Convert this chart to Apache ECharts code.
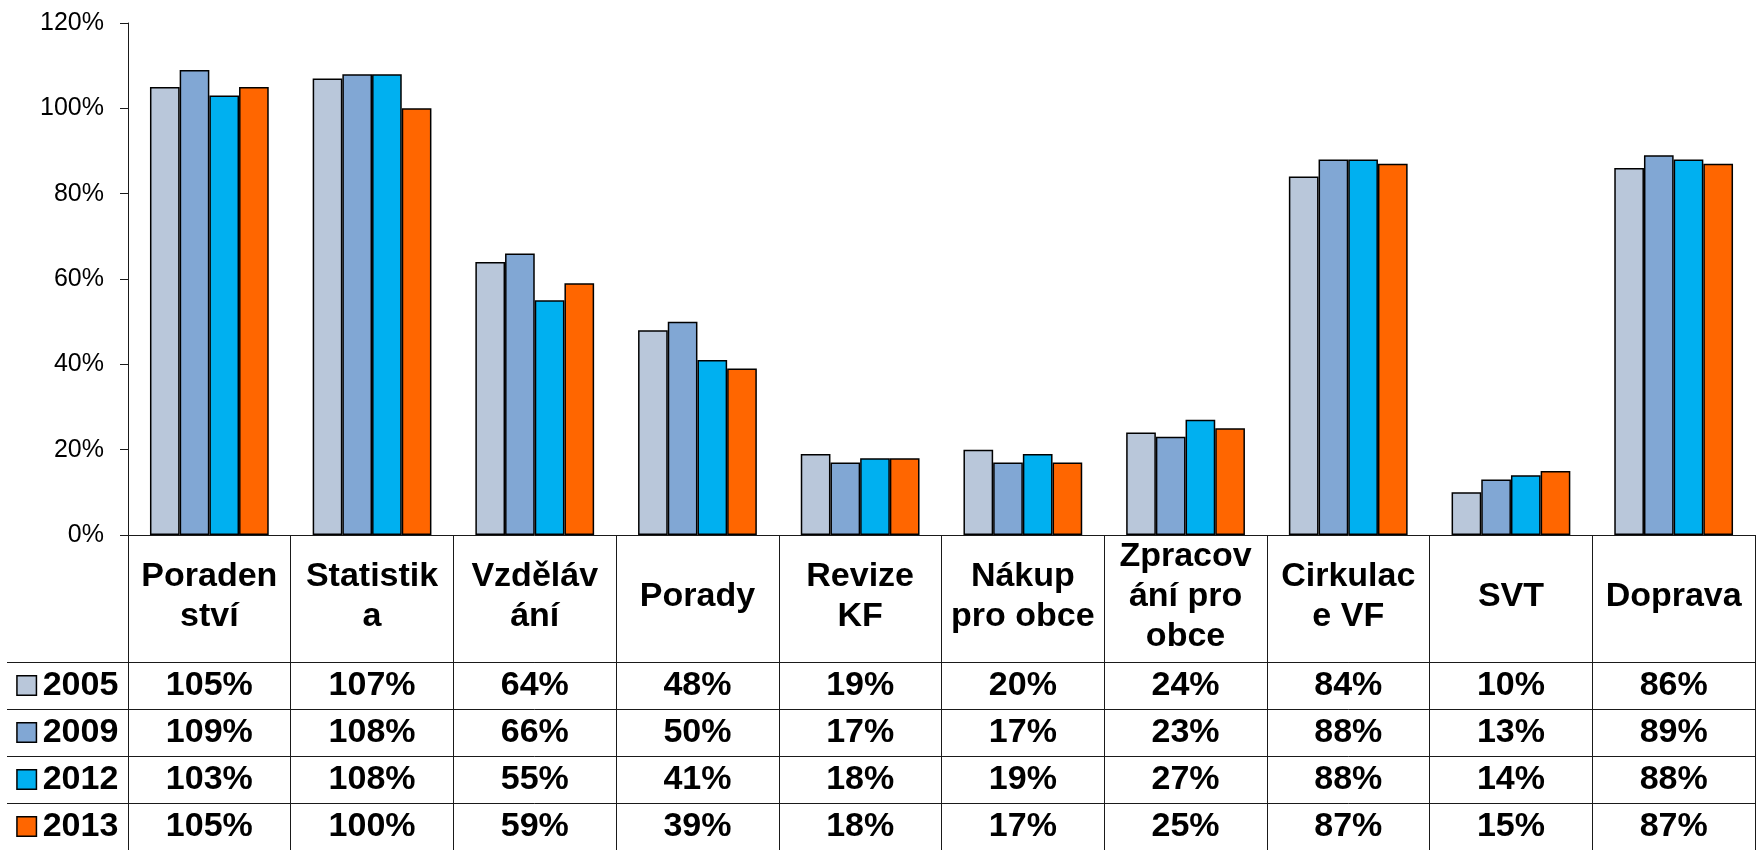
<!DOCTYPE html>
<html lang="cs">
    <head>
        <meta charset="utf-8">
        <title>eCharts</title>
        <script src="https://cdn.jsdelivr.net/npm/echarts@6/dist/echarts.min.js"></script>
        <style>
            html, body { margin: 0; padding: 0; background: #fff; }
        </style>
    </head>
    <body>
        <div id="main" style="width: 1756px;height: 850px;"></div>

        <script type="text/javascript">

            // category labels, wrapped as in the table header
            const categories = ['Poraden\nství', 'Statistik\na', 'Vzděláv\nání', 'Porady', 'Revize\nKF',
                'Nákup\npro obce', 'Zpracov\nání pro\nobce', 'Cirkulac\ne VF', 'SVT', 'Doprava'];
            const years = ['2005', '2009', '2012', '2013'];
            const colors = ['#B9C7DA', '#81A7D4', '#00B0F0', '#FF6600'];

            const v2005 = [105, 107, 64, 48, 19, 20, 24, 84, 10, 86];
            const v2009 = [109, 108, 66, 50, 17, 17, 23, 88, 13, 89];
            const v2012 = [103, 108, 55, 41, 18, 19, 27, 88, 14, 88];
            const v2013 = [105, 100, 59, 39, 18, 17, 25, 87, 15, 87];
            const values = [v2005, v2009, v2012, v2013];

            const font = 'Liberation Sans, Arial, sans-serif';
            const lineColor = '#1a1a1a';

            let myChart = echarts.init(document.getElementById('main'));

            // legend squares for the row labels
            let rich = { g: { width: 7 } };
            years.forEach((y, i) => {
                rich['k' + i] = {
                    width: 18, height: 18,
                    backgroundColor: colors[i],
                    borderColor: '#000', borderWidth: 1.5
                };
            });

            let barSeries = years.map((y, i) => ({
                name: y,
                type: 'bar',
                xAxisIndex: 0,
                yAxisIndex: 0,
                barGap: '0%',
                barCategoryGap: '27%',
                data: values[i],
                itemStyle: { color: colors[i], borderColor: '#000', borderWidth: 1.5 }
            }));

            // cells of the data table
            let cells = [];
            values.forEach((arr, r) => {
                arr.forEach((v, c) => cells.push([c, r, v]));
            });

            let options = {
                animation: false,
                textStyle: { fontFamily: font },
                grid: [
                    { left: 128, right: 1, top: 23, height: 512 },
                    { left: 128, right: 1, top: 662, height: 192 }
                ],
                xAxis: [
                    {
                        type: 'category', gridIndex: 0, data: categories,
                        axisLine: { lineStyle: { color: lineColor, width: 1 } },
                        axisTick: { show: true, length: 127, lineStyle: { color: lineColor, width: 1 } },
                        axisLabel: {
                            interval: 0, margin: 62, verticalAlign: 'middle',
                            fontSize: 34, fontWeight: 'bold', color: '#000',
                            lineHeight: 40, fontFamily: font
                        }
                    },
                    {
                        type: 'category', gridIndex: 1, data: categories, position: 'top',
                        axisLine: { lineStyle: { color: lineColor, width: 1 } },
                        axisTick: { show: false },
                        axisLabel: { show: false },
                        splitLine: { show: true, interval: 0, lineStyle: { color: lineColor, width: 1 } }
                    }
                ],
                yAxis: [
                    {
                        type: 'value', gridIndex: 0, min: 0, max: 120, interval: 20,
                        axisLine: { show: true, lineStyle: { color: lineColor, width: 1 } },
                        axisTick: { show: true, length: 8, lineStyle: { color: lineColor } },
                        splitLine: { show: false },
                        axisLabel: {
                            formatter: '{value}%', fontSize: 25, color: '#000',
                            margin: 24, fontFamily: font
                        }
                    },
                    {
                        type: 'category', gridIndex: 1, data: years, inverse: true,
                        axisLine: { show: true, lineStyle: { color: lineColor, width: 1 } },
                        axisTick: { show: true, length: 121, interval: 0, lineStyle: { color: lineColor, width: 1 } },
                        splitLine: { show: true, interval: 0, lineStyle: { color: lineColor, width: 1 } },
                        axisLabel: {
                            interval: 0, align: 'center', margin: 60,
                            fontSize: 34, fontWeight: 'bold', color: '#000', fontFamily: font,
                            formatter: (v, i) => '{k' + i + '|}{g|}' + v,
                            rich: rich
                        }
                    },
                    {
                        type: 'category', gridIndex: 1, data: years, inverse: true, offset: 121,
                        axisLine: { show: true, lineStyle: { color: lineColor, width: 1 } },
                        axisTick: { show: false },
                        axisLabel: { show: false },
                        splitLine: { show: false }
                    }
                ],
                series: barSeries.concat([{
                    type: 'scatter',
                    xAxisIndex: 1,
                    yAxisIndex: 1,
                    symbolSize: 1,
                    itemStyle: { color: 'rgba(0,0,0,0)', opacity: 1 },
                    emphasis: { disabled: true },
                    data: cells,
                    label: {
                        show: true, position: 'inside',
                        formatter: (p) => p.value[2] + '%',
                        fontSize: 34, fontWeight: 'bold', color: '#000', fontFamily: font,
                        textBorderWidth: 0
                    }
                }])
            };

            myChart.setOption(options);

        </script>
    </body>
</html>
